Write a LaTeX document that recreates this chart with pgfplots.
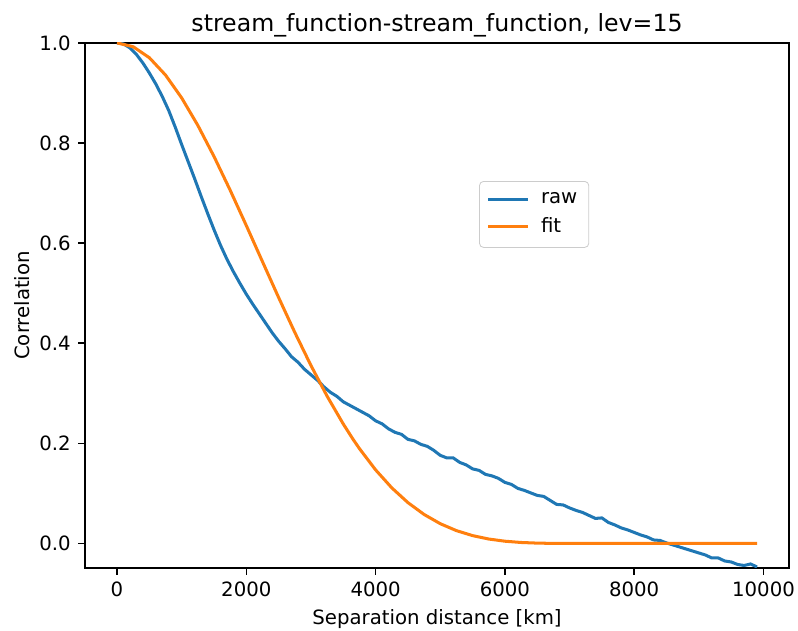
\documentclass[border=0pt]{standalone}
\usepackage{pgfplots}
\pgfplotsset{compat=1.18}
\usepackage{fontspec}
\setmainfont{DejaVu Sans}
\definecolor{mplblue}{HTML}{1F77B4}
\definecolor{mplorange}{HTML}{FF7F0E}
\begin{document}
\begin{tikzpicture}
\path[use as bounding box] (-40.8pt,-30.2pt) rectangle (342.2pt,272.6pt);
\begin{axis}[
  at={(0pt,0pt)}, anchor=south west,
  scale only axis, width=337.9pt, height=252pt,
  xmin=-495, xmax=10395, ymin=-0.049, ymax=1.0,
  axis line style={line width=0.76pt},
  tick align=outside, tick pos=left,
  major tick length=3.3pt,
  every tick/.style={black, line width=0.76pt},
  xtick={0,2000,4000,6000,8000,10000},
  ytick={0,0.2,0.4,0.6,0.8,1.0},
  scaled x ticks=false,
  xticklabel style={/pgf/number format/.cd, 1000 sep={}, assume math mode=true},
  yticklabel style={/pgf/number format/.cd, fixed, fixed zerofill, precision=1, assume math mode=true},
  ticklabel style={font=\fontsize{9.46}{11}\selectfont},
  title={stream\_function-stream\_function, lev=15},
  every axis title/.style={at={(axis description cs:0.5,1)}, anchor=base, yshift=5.5pt, font=\fontsize{11.35}{13}\selectfont, inner sep=0pt},
  xlabel={Separation distance [km]},
  ylabel={Correlation},
  every axis x label/.style={at={(axis description cs:0.5,0)}, anchor=base, yshift=-27.3pt, font=\fontsize{9.46}{11}\selectfont, inner sep=0pt},
  every axis y label/.style={at={(axis description cs:0,0.5)}, xshift=-26.6pt, rotate=90, anchor=base, font=\fontsize{9.46}{11}\selectfont, inner sep=0pt},
  legend style={at={(axis description cs:0.5597,0.737)}, anchor=north west, draw=black!20, rounded corners=2pt, fill=white, fill opacity=0.8, text opacity=1, font=\fontsize{9.46}{11}\selectfont, inner xsep=3.5pt, inner ysep=3.5pt, row sep=1.2pt, column sep=3.6pt},
  legend cell align=left,
  legend image code/.code={\draw[#1] (0pt,0pt) -- (19pt,0pt);},
]
\addplot[mplblue, line width=1.45pt] coordinates {
(0,1.000) (100,0.998) (200,0.990) (300,0.977) (400,0.960) (500,0.940)
(600,0.918) (700,0.893) (800,0.865) (900,0.832) (1000,0.797)
(1100,0.763) (1200,0.729) (1300,0.694) (1400,0.660) (1500,0.627)
(1600,0.596) (1700,0.568) (1800,0.543) (1900,0.520) (2000,0.498)
(2100,0.478) (2200,0.459) (2300,0.440) (2400,0.421) (2500,0.404)
(2600,0.389) (2700,0.373) (2800,0.362) (2900,0.348) (3000,0.337)
(3100,0.326) (3200,0.313) (3300,0.302) (3400,0.294) (3500,0.283)
(3600,0.276) (3700,0.269) (3800,0.262) (3900,0.255) (4000,0.245)
(4100,0.239) (4200,0.229) (4300,0.222) (4400,0.218) (4500,0.208)
(4600,0.205) (4700,0.198) (4800,0.194) (4900,0.186) (5000,0.176)
(5100,0.171) (5200,0.171) (5300,0.162) (5400,0.157) (5500,0.149)
(5600,0.146) (5700,0.138) (5800,0.135) (5900,0.130) (6000,0.122)
(6100,0.118) (6200,0.110) (6300,0.106) (6400,0.101) (6500,0.096)
(6600,0.094) (6700,0.086) (6800,0.078) (6900,0.077) (7000,0.071)
(7100,0.066) (7200,0.062) (7300,0.056) (7400,0.050) (7500,0.051)
(7600,0.042) (7700,0.037) (7800,0.031) (7900,0.027) (8000,0.022)
(8100,0.017) (8200,0.013) (8300,0.007) (8400,0.006) (8500,0.001)
(8600,-0.003) (8700,-0.007) (8800,-0.011) (8900,-0.015) (9000,-0.019)
(9100,-0.023) (9200,-0.029) (9300,-0.029) (9400,-0.035) (9500,-0.037)
(9600,-0.042) (9700,-0.044) (9800,-0.041) (9900,-0.047)
};
\addlegendentry{raw}
\addplot[mplorange, line width=1.45pt] coordinates {
(0,1.0) (250,0.99239) (500,0.97049) (750,0.93585) (1000,0.89018)
(1250,0.83533) (1500,0.77323) (1750,0.70585) (2000,0.63514)
(2250,0.56302) (2500,0.49130) (2750,0.42165) (3000,0.35552)
(3250,0.29420) (3500,0.23863) (3650,0.20833) (3750,0.18946)
(4000,0.14698) (4250,0.11112) (4500,0.08159) (4750,0.05792)
(5000,0.03948) (5250,0.02563) (5500,0.01565) (5750,0.00884)
(6000,0.00448) (6250,0.00195) (6500,0.00067) (6750,0.00012)
(7000,0.00001) (7300,0.0) (8000,0.0) (9000,0.0) (9900,0.0)
};
\addlegendentry{fit}
\end{axis}
\end{tikzpicture}
\end{document}
